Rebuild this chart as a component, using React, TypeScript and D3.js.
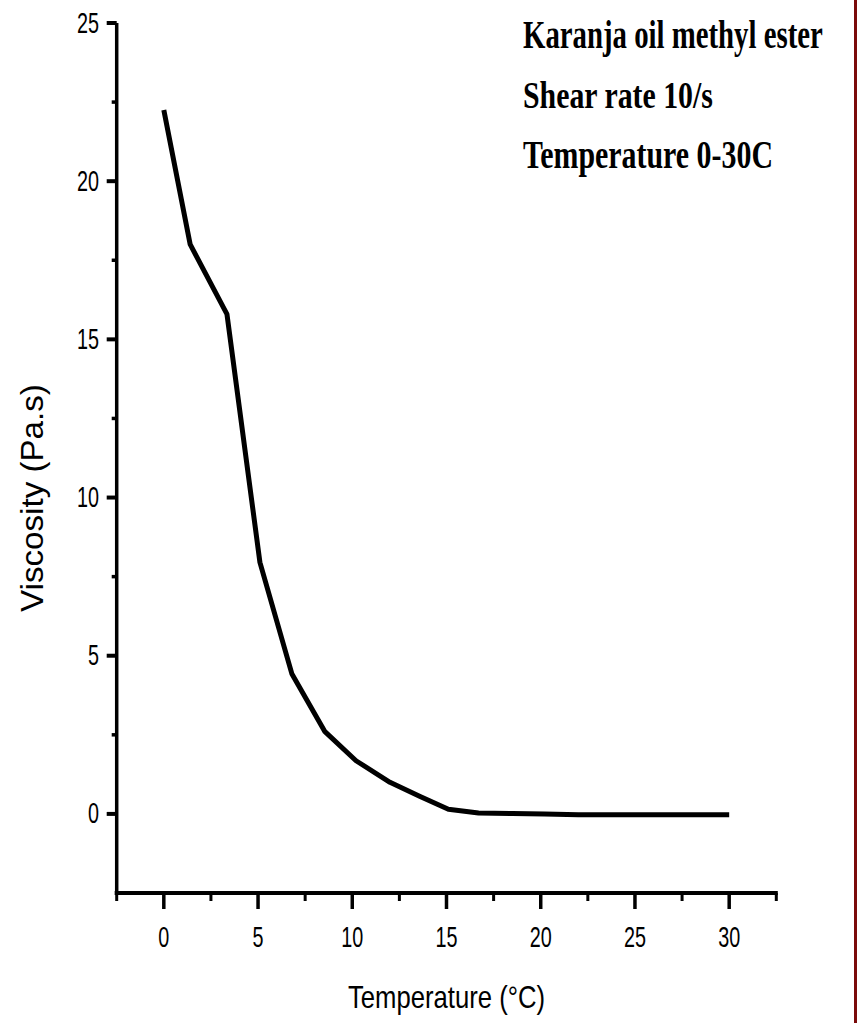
import React, { useLayoutEffect, useRef, useState } from "react";
import * as d3 from "d3";

const temperature = [0, 1.4, 3.35, 5.1, 6.8, 8.55, 10.2, 12.0, 13.6, 15.1, 16.7, 18.5, 20.2, 22.0, 25.0, 30.0];
const viscosity = [22.25, 18.0, 15.8, 7.95, 4.42, 2.6, 1.68, 1.0, 0.55, 0.15, 0.03, 0.01, 0.0, -0.03, -0.03, -0.03];
const xMajorTicks = [0, 5, 10, 15, 20, 25, 30];
const xMinorTicks = [-2.5, 2.5, 7.5, 12.5, 17.5, 22.5, 27.5, 32.5];
const yMajorTicks = [0, 5, 10, 15, 20, 25];
const yMinorTicks = [2.5, 7.5, 12.5, 17.5, 22.5];
const titleLines = ["Karanja oil methyl ester", "Shear rate 10/s", "Temperature 0-30C"];
const xTitle = "Temperature (°C)";
const yTitle = "Viscosity (Pa.s)";

// Text squeezed horizontally (in its own frame) to a target width using a scale transform
function FitText(props: {
  x: number; y: number; width: number; rotate?: number; anchor?: "start" | "middle" | "end";
  fontFamily: string; fontSize: number; fontWeight?: string; guess: number; children: string;
}) {
  const ref = useRef<SVGTextElement>(null);
  const [s, setS] = useState(props.guess);
  useLayoutEffect(() => {
    if (ref.current) {
      const len = ref.current.getComputedTextLength();
      if (len > 0) setS(props.width / len);
    }
  }, [props.width, props.children]);
  const rot = props.rotate ? ` rotate(${props.rotate})` : "";
  return (
    <text ref={ref} transform={`translate(${props.x},${props.y})${rot} scale(${s},1)`}
      textAnchor={props.anchor || "start"} fontFamily={props.fontFamily} fontSize={props.fontSize}
      fontWeight={props.fontWeight || "normal"} fill="#000">{props.children}</text>
  );
}

export default function App() {
  const W = 860, H = 1023;
  const x = d3.scaleLinear().domain([-2.5, 32.5]).range([116.7, 776.3]);
  const y = d3.scaleLinear().domain([-2.5, 25]).range([893, 23]);
  const data = temperature.map((t, i) => [t, viscosity[i]] as [number, number]);
  const line = d3.line<[number, number]>().x(d => x(d[0])).y(d => y(d[1]));
  const x0 = x(-2.5), x1 = x(32.5), yb = y(-2.5), yt = y(25);
  const sans = "'Liberation Sans', Arial, sans-serif";
  const serif = "'Liberation Serif', 'Times New Roman', serif";
  const titleWidths = [300, 190, 250];
  return (
    <svg width={W} height={H} style={{ position: "absolute", left: 0, top: 0, background: "#fff" }}>
      <rect x={0} y={0} width={W} height={H} fill="#fff" />
      {/* axes */}
      <line x1={x0} x2={x0} y1={yt} y2={yb + 2} stroke="#000" strokeWidth={3.5} />
      <line x1={x0 - 2} x2={x1 + 1.5} y1={yb} y2={yb} stroke="#000" strokeWidth={4} />
      {yMajorTicks.map(v => (
        <g key={"ym" + v}>
          <line x1={x0 - 10} x2={x0} y1={y(v)} y2={y(v)} stroke="#000" strokeWidth={4} />
          <FitText x={99} y={y(v) + 9.5} anchor="end" fontFamily={sans} fontSize={29}
            width={v >= 10 ? 22 : 11} guess={0.68}>{String(v)}</FitText>
        </g>
      ))}
      {yMinorTicks.map(v => (
        <line key={"yn" + v} x1={x0 - 5} x2={x0} y1={y(v)} y2={y(v)} stroke="#000" strokeWidth={3.5} />
      ))}
      {xMajorTicks.map(v => (
        <g key={"xm" + v}>
          <line x1={x(v)} x2={x(v)} y1={yb} y2={yb + 16} stroke="#000" strokeWidth={3.5} />
          <FitText x={x(v)} y={947} anchor="middle" fontFamily={sans} fontSize={29}
            width={v >= 10 ? 22 : 11} guess={0.68}>{String(v)}</FitText>
        </g>
      ))}
      {xMinorTicks.map(v => (
        <line key={"xn" + v} x1={x(v)} x2={x(v)} y1={yb} y2={yb + 8} stroke="#000" strokeWidth={3} />
      ))}
      {/* data line */}
      <path d={line(data) || ""} fill="none" stroke="#000" strokeWidth={5} strokeLinejoin="round" />
      {/* axis titles */}
      <FitText x={348} y={1008} fontFamily={sans} fontSize={32} width={197} guess={0.8}>{xTitle}</FitText>
      <FitText x={43} y={612} rotate={-90} fontFamily={sans} fontSize={32} width={228} guess={1}>{yTitle}</FitText>
      {/* annotation */}
      {titleLines.map((t, i) => (
        <FitText key={t} x={523} y={48 + i * 60} fontFamily={serif} fontWeight="bold" fontSize={39}
          width={titleWidths[i]} guess={0.75}>{t}</FitText>
      ))}
      {/* right border */}
      <line x1={855.5} x2={855.5} y1={0} y2={H} stroke="#7a0a0a" strokeWidth={3} />
    </svg>
  );
}
